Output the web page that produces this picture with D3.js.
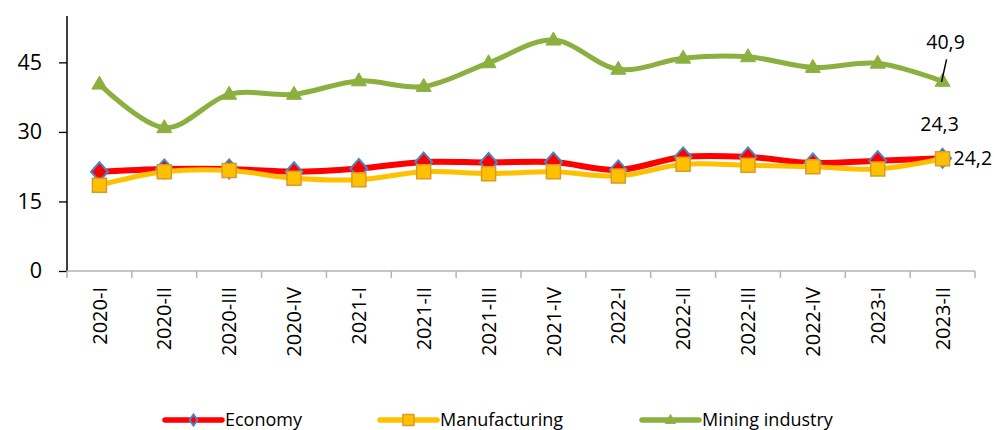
<!DOCTYPE html>
<html>
<head>
<meta charset="utf-8">
<script src="https://cdn.jsdelivr.net/npm/d3@7"></script>
<style>
  html, body { margin: 0; padding: 0; background: #fff; }
  svg { display: block; font-family: "Open Sans", sans-serif; }
</style>
</head>
<body>
<svg id="chart" width="994" height="430"></svg>
<script>
const categories = ["2020-I","2020-II","2020-III","2020-IV","2021-I","2021-II","2021-III","2021-IV","2022-I","2022-II","2022-III","2022-IV","2023-I","2023-II"];
const economy = [21.4, 22.0, 22.0, 21.4, 22.1, 23.5, 23.4, 23.5, 21.8, 24.6, 24.6, 23.3, 23.8, 24.3];
const manufacturing = [18.5, 21.4, 21.7, 20.0, 19.7, 21.4, 21.0, 21.4, 20.5, 23.0, 22.8, 22.5, 22.0, 24.2];
const mining = [40.3, 30.9, 38.1, 38.1, 41.0, 39.8, 44.9, 49.8, 43.5, 45.9, 46.2, 43.9, 44.8, 40.9];
const yTicks = [0, 15, 30, 45];
const seriesNames = ["Economy", "Manufacturing", "Mining industry"];

(function () {
const svg = d3.select("#chart");
const pLeft = 67, pRight = 975, pTop = 16, pBottom = 271;

const x = d3.scaleBand().domain(categories).range([pLeft, pRight]).padding(0);
const y = d3.scaleLinear().domain([0, 55]).range([pBottom, pTop]);
const cx = c => x(c) + x.bandwidth() / 2;

// Y axis
const yAxis = svg.append("g").attr("transform", `translate(${pLeft},0)`)
  .call(d3.axisLeft(y).tickValues(yTicks).tickSize(8).tickPadding(17).tickFormat(d3.format("d")));
yAxis.select(".domain").attr("stroke", "#000").attr("stroke-width", 1.5).attr("d", `M0,${pTop}V${pBottom}`);
yAxis.selectAll(".tick line").attr("stroke", "#000").attr("stroke-width", 1.3);
yAxis.selectAll(".tick text").attr("font-size", 21.5).attr("fill", "#000").attr("font-family", "Open Sans");

// X axis
const xg = svg.append("g").attr("transform", `translate(0,${pBottom})`);
xg.append("line").attr("x1", pLeft).attr("x2", pRight).attr("y1", 0).attr("y2", 0)
  .attr("stroke", "#b3b3b3").attr("stroke-width", 1.5);
const boundaries = categories.map(c => x(c)).concat([x(categories[categories.length - 1]) + x.bandwidth()]);
xg.selectAll("line.tk").data(boundaries).enter().append("line").attr("class", "tk")
  .attr("x1", d => d).attr("x2", d => d).attr("y1", 0).attr("y2", 7)
  .attr("stroke", "#b3b3b3").attr("stroke-width", 1.5);
xg.selectAll("text").data(categories).enter().append("text")
  .attr("transform", d => `translate(${cx(d)},16) rotate(-90)`)
  .attr("text-anchor", "end").attr("dy", "0.36em")
  .attr("font-size", 20).attr("fill", "#000").text(d => d);

const curve = d3.curveCatmullRom.alpha(0);
const line = d3.line().x((d, i) => cx(categories[i])).y(d => y(d)).curve(curve);

const diamond = (w, h) => `M0,${-h/2}L${w/2},0L0,${h/2}L${-w/2},0Z`;
const square = s => `M${-s/2},${-s/2}h${s}v${s}h${-s}Z`;
const triangle = (w, h) => `M0,${-h*0.62}L${w/2},${h*0.38}L${-w/2},${h*0.38}Z`;

const series = [
  { name: seriesNames[0], data: economy, color: "#ff0000", width: 6,
    marker: diamond(17, 19), mfill: "#ff0000", mstroke: "#4a86c5", msw: 2, legMarker: diamond(8, 11) },
  { name: seriesNames[1], data: manufacturing, color: "#ffc000", width: 5,
    marker: square(14), mfill: "#ffc000", mstroke: "#d99a2a", msw: 1.5, legMarker: square(11) },
  { name: seriesNames[2], data: mining, color: "#8cb040", width: 5,
    marker: triangle(15, 13), mfill: "#8cb040", mstroke: "#8cb040", msw: 1, legMarker: triangle(10, 9) }
];

series.forEach(s => {
  const g = svg.append("g");
  g.append("path").attr("d", line(s.data)).attr("fill", "none")
    .attr("stroke", s.color).attr("stroke-width", s.width).attr("stroke-linejoin", "round").attr("stroke-linecap", "round");
  g.selectAll("path.m").data(s.data).enter().append("path").attr("class", "m")
    .attr("transform", (d, i) => `translate(${cx(categories[i])},${y(d)})`)
    .attr("d", s.marker).attr("fill", s.mfill).attr("stroke", s.mstroke).attr("stroke-width", s.msw);
});

// Data labels for last point
const n = categories.length - 1;
const lx = cx(categories[n]);
const fmt = v => d3.format(".1f")(v).replace(".", ",");
svg.append("line")
  .attr("x1", lx + 4).attr("y1", y(mining[n]) - 22)
  .attr("x2", lx - 1).attr("y2", y(mining[n]) + 0.5)
  .attr("stroke", "#000").attr("stroke-width", 1.5);
svg.append("text").attr("x", lx + 3).attr("y", y(mining[n]) - 32)
  .attr("text-anchor", "middle").attr("font-size", 19.5).text(fmt(mining[n]));
svg.append("text").attr("x", lx - 3).attr("y", y(economy[n]) - 27)
  .attr("text-anchor", "middle").attr("font-size", 19.5).text(fmt(economy[n]));
svg.append("text").attr("x", lx + 11).attr("y", y(manufacturing[n]) + 6.5)
  .attr("text-anchor", "start").attr("font-size", 19.5).text(fmt(manufacturing[n]));

// Legend
const legendX = [165, 380, 642];
const legY = 420;
series.forEach((s, i) => {
  const g = svg.append("g").attr("transform", `translate(${legendX[i]},${legY})`);
  g.append("line").attr("x1", 0).attr("x2", 57).attr("y1", 0).attr("y2", 0)
    .attr("stroke", s.color).attr("stroke-width", 5.5).attr("stroke-linecap", "round");
  g.append("path").attr("transform", "translate(28.5,0)").attr("d", s.legMarker)
    .attr("fill", s.mfill).attr("stroke", s.mstroke).attr("stroke-width", s.msw);
  g.append("text").attr("x", 60).attr("y", 6).attr("font-size", 18).attr("fill", "#000").text(s.name);
});
})();
</script>
</body>
</html>
